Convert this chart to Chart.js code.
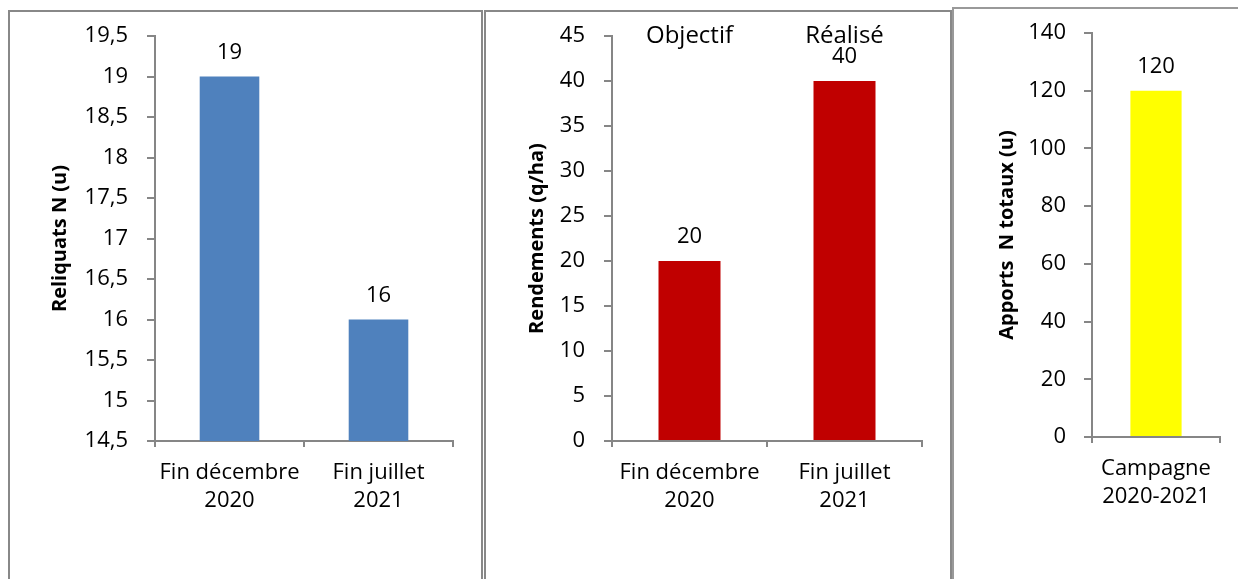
<!DOCTYPE html>
<html><head><meta charset="utf-8">
<script src="https://cdn.jsdelivr.net/npm/chart.js@4"></script>
<style>
html,body{margin:0;padding:0;background:#fff;width:1238px;height:579px;overflow:hidden;position:relative}
.panel{position:absolute;border:2px solid #888;box-sizing:border-box}
canvas{position:absolute;display:block}
</style></head><body>
<div class="panel" style="left:8px;top:10px;width:475px;height:620px"></div>
<div class="panel" style="left:484px;top:10px;width:468px;height:620px"></div>
<div class="panel" style="left:952px;top:7px;width:300px;height:620px;border-color:#999"></div>
<canvas id="c1" width="470" height="567" style="left:10px;top:12px"></canvas>
<canvas id="c2" width="464" height="567" style="left:486px;top:12px"></canvas>
<canvas id="c3" width="284" height="570" style="left:954px;top:9px"></canvas>
<script>
// ---- data ----
const categories1 = [["Fin décembre", "2020"], ["Fin juillet", "2021"]];
const values1 = [19, 16];
const yTitle1 = "Reliquats N (u)";
const yRange1 = [14.5, 19.5, 0.5];

const categories2 = [["Fin décembre", "2020"], ["Fin juillet", "2021"]];
const values2 = [20, 40];
const annotations2 = ["Objectif", "Réalisé"];
const yTitle2 = "Rendements (q/ha)";
const yRange2 = [0, 45, 5];

const categories3 = [["Campagne", "2020-2021"]];
const values3 = [120];
const yTitle3 = "Apports  N totaux (u)";
const yRange3 = [0, 140, 20];

// ---- rendering ----
const FONT = "'Open Sans', 'Liberation Sans', sans-serif";
const AXIS = '#868686';

const valueLabels = {
  id: 'valueLabels',
  afterDatasetsDraw(chart) {
    const ctx = chart.ctx;
    const meta = chart.getDatasetMeta(0);
    ctx.save();
    ctx.fillStyle = '#000';
    ctx.textAlign = 'center';
    ctx.textBaseline = 'middle';
    ctx.font = '22px ' + FONT;
    meta.data.forEach((bar, i) => {
      ctx.fillText(String(chart.data.datasets[0].data[i]), bar.x, bar.y - 24);
    });
    const ann = chart.options.plugins.valueLabels && chart.options.plugins.valueLabels.annotations;
    if (ann) {
      ctx.font = '24px ' + FONT;
      const ys = chart.scales.y;
      const xs = chart.scales.x;
      ann.forEach((t, i) => {
        ctx.fillText(t, xs.getPixelForValue(i), ys.getPixelForValue(ys.max));
      });
    }
    ctx.restore();
  }
};

function makeChart(id, cats, vals, color, range, title, o) {
  return new Chart(document.getElementById(id), {
    type: 'bar',
    data: { labels: cats, datasets: [{ data: vals, backgroundColor: color, barPercentage: 0.4, categoryPercentage: 1 }] },
    options: {
      responsive: false,
      animation: false,
      layout: { padding: { top: o.top, right: o.right, left: 0, bottom: 0 } },
      plugins: { legend: { display: false }, tooltip: { enabled: false }, valueLabels: { annotations: o.annotations } },
      scales: {
        x: {
          grid: { drawOnChartArea: false, drawTicks: true, tickLength: 6, color: AXIS, lineWidth: 2 },
          border: { color: AXIS, width: 2 },
          ticks: { color: '#000', font: { family: FONT, size: 22, lineHeight: 1.3 }, padding: o.xpad, maxRotation: 0, autoSkip: false },
          afterFit(s) { s.height = o.xh; s.paddingLeft = 0; s.paddingRight = 0; }
        },
        y: {
          min: range[0], max: range[1],
          grid: { drawOnChartArea: false, drawTicks: true, tickLength: 8, color: AXIS, lineWidth: 2 },
          border: { color: AXIS, width: 2 },
          ticks: { stepSize: range[2], color: '#000', font: { family: FONT, size: 22 }, padding: o.ypad,
                   callback: v => String(v).replace('.', ',') },
          title: { display: true, text: title, color: '#000', font: { family: FONT, size: 20, weight: 'bold', lineHeight: 1.2 }, padding: { top: o.tpad, bottom: 0 } },
          afterFit(s) { s.width = o.yw; s.paddingTop = 0; s.paddingBottom = 0; }
        }
      }
    },
    plugins: [valueLabels]
  });
}

makeChart('c1', categories1, values1, '#4F81BD', yRange1, yTitle1, { top: 24, right: 27, xh: 138, yw: 145, tpad: 38, xpad: 11, ypad: 19 });
makeChart('c2', categories2, values2, '#C00000', yRange2, yTitle2, { top: 24, right: 28, xh: 138, yw: 126, tpad: 39, xpad: 11, ypad: 19, annotations: annotations2 });
makeChart('c3', categories3, values3, '#FFFF00', yRange3, yTitle3, { top: 24, right: 18, xh: 142, yw: 138, tpad: 41, xpad: 11, ypad: 18 });
</script>
</body></html>
